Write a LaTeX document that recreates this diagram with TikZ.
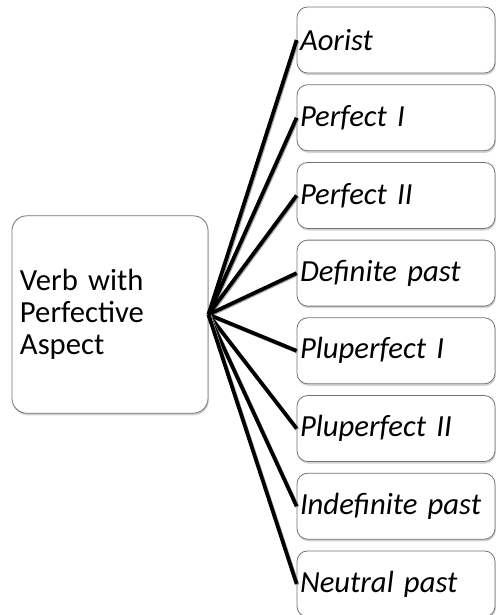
\documentclass[tikz,border=0pt]{standalone}
\usepackage{fontspec}
\setmainfont{Carlito}
\usepackage{tikz}
\usetikzlibrary{shadows}

\tikzset{
  box/.style={draw=black!55, fill=white, rounded corners=8pt, line width=0.6pt,
    drop shadow={opacity=0.35, shadow xshift=0.6pt, shadow yshift=-1.6pt},
    font=\fontsize{23}{24}\selectfont, align=left},
  tense/.style={box, minimum width=148.5pt, minimum height=49.5pt,
    text width=144pt, inner xsep=2pt, font=\fontsize{23}{24}\selectfont\itshape},
  spoke/.style={line width=2.8pt, black,
    preaction={draw, black!35, line width=2.8pt, transform canvas={xshift=0.7pt, yshift=-0.7pt}}}
}

\begin{document}
\begin{tikzpicture}[x=0.75pt, y=-0.75pt]
\useasboundingbox (0,0) rectangle (496,615);

% Main box
\node[box, rounded corners=11pt, minimum width=145.5pt, minimum height=148pt,
  text width=135pt, inner xsep=6pt]
  (verb) at (110,314.5) {Verb with\\Perfective\\Aspect};

% Tense boxes
\foreach \name/\txt [count=\i from 0] in {aorist/Aorist, perfI/Perfect I, perfII/Perfect II,
    defpast/Definite past, plupI/Pluperfect I, plupII/Pluperfect II,
    indefpast/Indefinite past, neutpast/Neutral past} {
  \node[tense] (\name) at (396,40+77.7*\i) {\txt};
}

% Spokes
\foreach \name in {aorist, perfI, perfII, defpast, plupI, plupII, indefpast, neutpast} {
  \draw[spoke] (verb.east) -- (\name.west);
}
\end{tikzpicture}
\end{document}
